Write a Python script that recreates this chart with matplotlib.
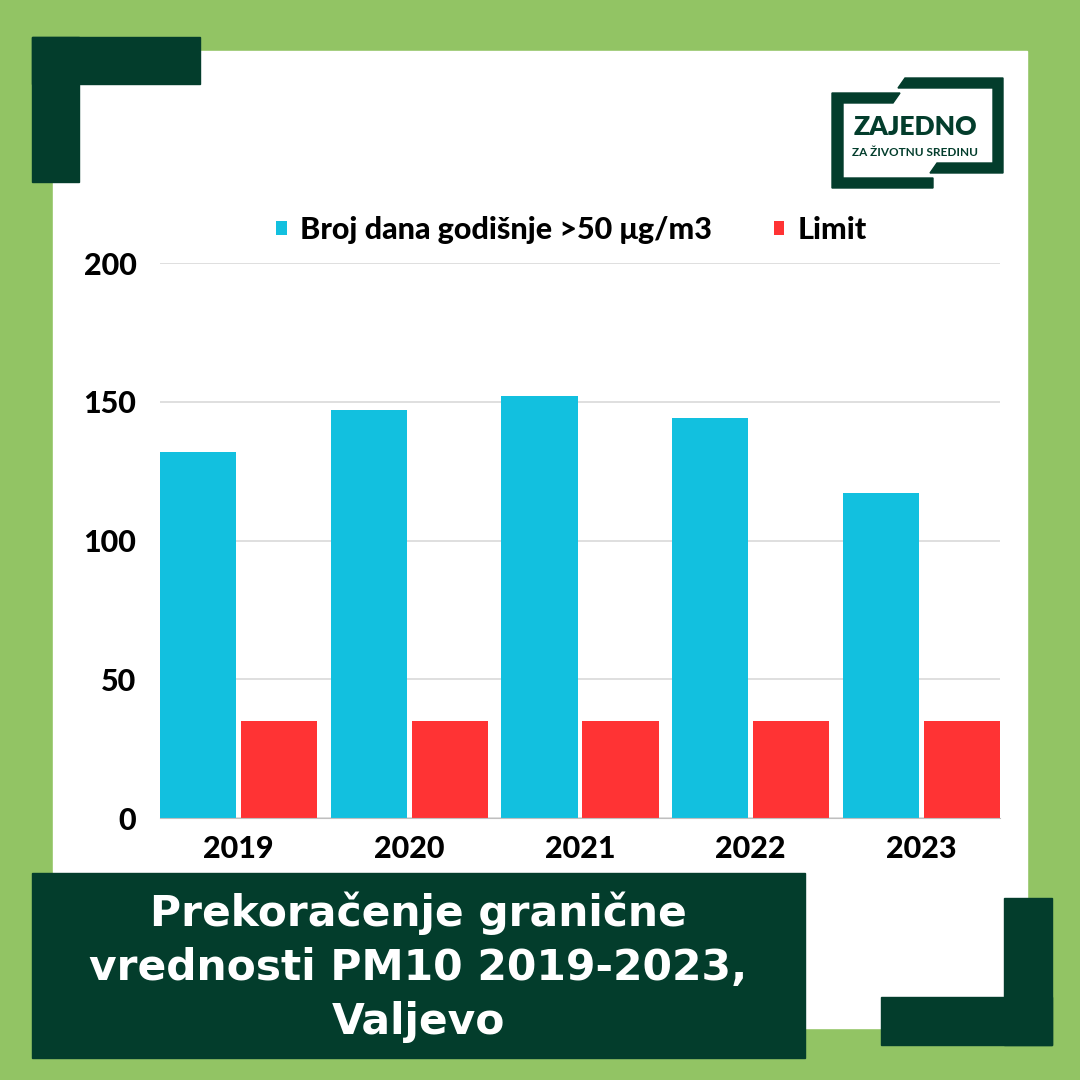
import matplotlib
matplotlib.use("Agg")
import matplotlib.pyplot as plt
from matplotlib.patches import Rectangle, Polygon
import numpy as np

years = ["2019", "2020", "2021", "2022", "2023"]
days_over = [132, 147, 152, 144, 117]
limit = [35, 35, 35, 35, 35]
yticks = [0, 50, 100, 150, 200]
label_days = "Broj dana godišnje >50 μg/m3"
label_limit = "Limit"
title = "Prekoračenje granične\nvrednosti PM10 2019-2023,\nValjevo"

W, H = 1080, 1080
LIGHT = "#92C464"
DARK = "#033D2C"
CYAN = "#12C0DF"
RED = "#FF3334"

plt.rcParams["font.family"] = ["Lato", "DejaVu Sans"]

fig = plt.figure(figsize=(W / 100, H / 100), dpi=100, facecolor=LIGHT)


def px_rect(x, y, w, h, color):
    fig.patches.append(Rectangle((x / W, 1 - (y + h) / H), w / W, h / H,
                                 transform=fig.transFigure, color=color, zorder=0))


def px_poly(pts, color):
    fig.patches.append(Polygon([(x / W, 1 - y / H) for x, y in pts], closed=True,
                               transform=fig.transFigure, color=color, zorder=1))


# white panel and corner brackets
px_rect(53, 51, 974, 977, "white")
px_rect(32, 37, 168, 47, DARK)
px_rect(32, 37, 47, 145, DARK)
px_rect(1004, 898, 48, 147, DARK)
px_rect(881, 997, 171, 48, DARK)

# logo
px_poly([(832, 93), (900, 93), (893, 103), (843, 103), (843, 178), (933, 178),
         (933, 188), (832, 188)], DARK)
px_poly([(905, 78), (1003, 78), (1003, 173), (930, 173), (937, 163), (993, 163),
         (993, 88), (898, 88)], DARK)
fig.text(915 / W, 1 - 127 / H, "ZAJEDNO", ha="center", va="center",
         fontsize=19, fontweight="heavy", color=DARK)
fig.text(915 / W, 1 - 152 / H, "ZA ŽIVOTNU SREDINU", ha="center", va="center",
         fontsize=8.5, fontweight="bold", color=DARK)

# chart
ax = fig.add_axes([160 / W, 1 - 818 / H, 840 / W, 555 / H])
ax.set_zorder(5)
ax.set_facecolor("none")
x = np.arange(len(years))
bw = 0.447
ax.bar(x - 0.237, days_over, bw, color=CYAN, label=label_days, zorder=3)
ax.bar(x + 0.237, limit, bw, color=RED, label=label_limit, zorder=3)
ax.set_xlim(-0.46, len(years) - 1 + 0.46)
ax.set_ylim(0, 200)
ax.set_yticks(yticks)
ax.set_yticklabels([str(v) for v in yticks], fontsize=22, fontweight="black")
ax.set_xticks(x)
ax.set_xticklabels(years, fontsize=22, fontweight="black")
ax.tick_params(axis="both", length=0)
ax.tick_params(axis="y", pad=17)
ax.tick_params(axis="x", pad=12)
ax.grid(axis="y", color="#D9D9D9", linewidth=1.2, zorder=0)
for s in ["top", "right", "left"]:
    ax.spines[s].set_visible(False)
ax.spines["bottom"].set_color("#BFBFBF")
ax.spines["bottom"].set_zorder(4)

ax.legend(loc="lower center", bbox_to_anchor=(0.49, 0.985), ncol=2, frameon=False,
          prop={"size": 22, "weight": "black"}, handlelength=0.35, handleheight=0.35,
          handletextpad=0.45, columnspacing=2.0)

# title box
px_rect(32, 873, 773, 185, DARK)
fig.text(418 / W, 1 - 967 / H, title, ha="center", va="center", color="white",
         fontsize=30.5, fontweight="bold", linespacing=1.36,
         family=["DejaVu Sans"])

fig.savefig("out.png", dpi=100, facecolor=LIGHT)
